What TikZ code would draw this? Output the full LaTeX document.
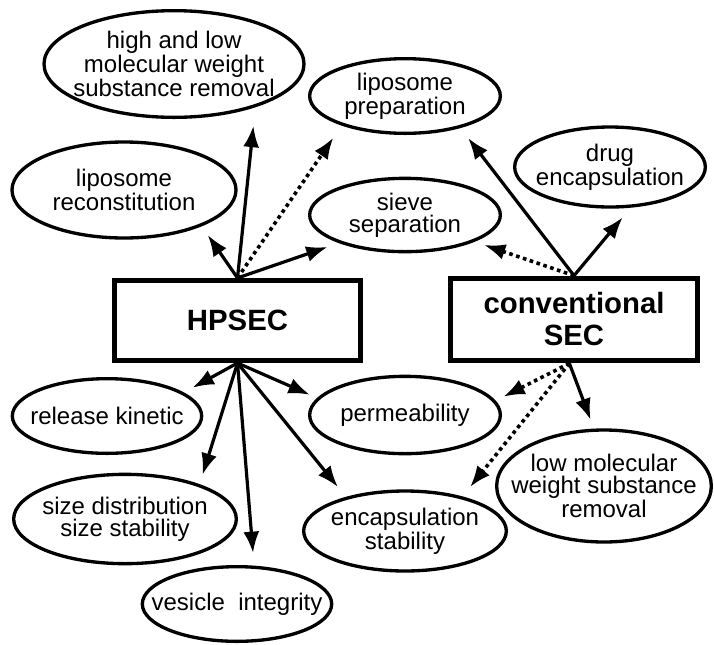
\documentclass[tikz,border=0pt]{standalone}
\usepackage{fontspec}
\setmainfont{Liberation Sans}
\usetikzlibrary{arrows.meta,shapes.geometric}

\begin{document}
\begin{tikzpicture}[
		x=0.75pt, y=-0.75pt,
		item/.style={
			ellipse,
			draw,
			line width=2.5pt,
			inner sep=0pt,
		},
		words/.style={
			align=center,
			inner sep=0pt,
			font=\fontsize{18}{16.5}\selectfont,
		},
		method/.style={
			rectangle,
			draw,
			line width=3.8pt,
			inner sep=0pt,
			align=center,
			font=\fontsize{22}{24}\selectfont\bfseries,
		},
		link/.style={->, line width=2.4pt},
		maybe/.style={link, line width=2.7pt, dash pattern=on 2.7pt off 2.7pt},
		>={Latex[length=16pt,width=12pt]}
		]
		\useasboundingbox (0,0) rectangle (714,644);
		% Draw the two methods
		\node [method,minimum width=184pt,minimum height=60pt] (hpsec) at (237.5,320.5) {HPSEC};
		\node [method,minimum width=185pt,minimum height=62pt] (conv) at (574,319.5) {conventional\\SEC};
		% Draw the applications above
		\node [item,minimum width=195pt,minimum height=80pt,label={[words]center:{high and low\\molecular weight\\substance removal}}] (hilo) at (174,64) {};
		\node [item,minimum width=143pt,minimum height=56pt,label={[words]center:{liposome\\preparation}}] (prep) at (405,96) {};
		\node [item,minimum width=168pt,minimum height=72pt,label={[words]center:{liposome\\reconstitution}}] (recon) at (124,190) {};
		\node [item,minimum width=143pt,minimum height=55pt,label={[words]center:{sieve\\separation}}] (sieve) at (405,215) {};
		\node [item,minimum width=143pt,minimum height=60pt,label={[words]center:{drug\\encapsulation}}] (drug) at (610,167) {};
		% Draw the applications below
		\node [item,minimum width=142pt,minimum height=56pt,label={[words]center:{release kinetic}}] (release) at (107,416) {};
		\node [item,minimum width=143pt,minimum height=58pt,label={[words]center:{permeability}}] (perm) at (405,415) {};
		\node [item,minimum width=167pt,minimum height=67pt,label={[words]center:{size distribution\\size stability}}] (sizedist) at (125,519) {};
		\node [item,minimum width=161pt,minimum height=84pt,label={[words]center:{low molecular\\weight substance\\removal}}] (lowmol) at (604,486) {};
		\node [item,minimum width=152pt,minimum height=60pt,label={[words]center:{encapsulation\\stability}}] (encstab) at (405,531) {};
		\node [item,minimum width=142pt,minimum height=56pt,label={[words]center:{vesicle\ \ integrity}}] (vesicle) at (237,604) {};
		% Draw the HPSEC arrows
		\foreach \tgt/\ang/\gap in {hilo/-28/14pt,recon/-25/8pt,sieve/203/9pt} {
			\draw[link,shorten >=\gap] (hpsec.north) -- (\tgt.\ang);
		}
		\draw[maybe,shorten >=11pt] (hpsec.north) -- (prep.205);
		\foreach \tgt/\ang/\gap in {release/17/7.5pt,sizedist/25/7.5pt,vesicle/66/9.5pt,perm/169/6pt,encstab/150/9.5pt} {
			\draw[link,shorten >=\gap] (hpsec.south) -- (\tgt.\ang);
		}
		% Draw the conventional SEC arrows
		\draw[link,shorten >=9.5pt] (conv.north) -- (prep.-30);
		\draw[link,shorten >=9.5pt] (conv.north) -- (drug.-63);
		\draw[maybe,shorten >=7.5pt] (conv.north) -- (sieve.-21);
		\draw[link,shorten >=7pt] (conv.-96) -- (lowmol.100);
		\draw[maybe,shorten >=6.5pt] (conv.-96) -- (perm.9);
		\draw[maybe,shorten >=9pt] (conv.-96) -- (encstab.31);
	\end{tikzpicture}
\end{document}
